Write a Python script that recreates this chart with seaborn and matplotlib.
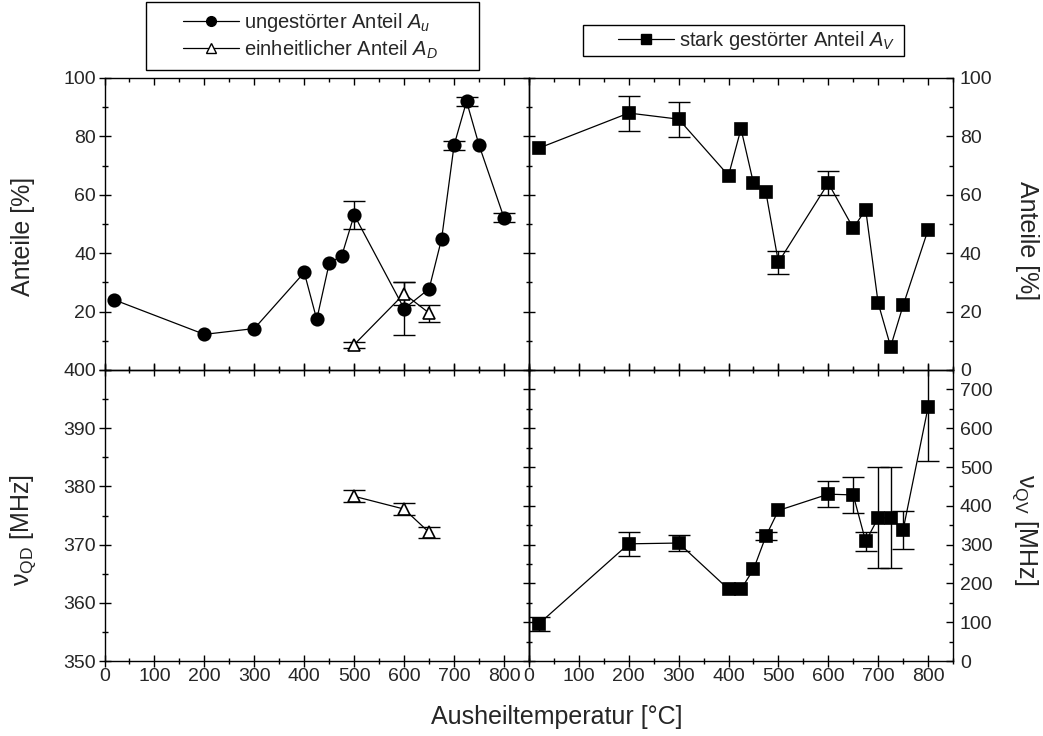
import numpy as np
import matplotlib
matplotlib.use("Agg")
import matplotlib.pyplot as plt
from matplotlib.ticker import MultipleLocator, FuncFormatter
from matplotlib.patches import Rectangle
from matplotlib.lines import Line2D
import seaborn as sns

# ---------------- data ----------------
temp_u = [20, 200, 300, 400, 425, 450, 475, 500, 600, 650, 675, 700, 725, 750, 800]
anteil_u = [24.0, 12.2, 14.2, 33.4, 17.3, 36.6, 39.1, 53.1, 21.0, 27.8, 44.9, 77.0, 92.0, 77.0, 52.1]
anteil_u_err = [0, 0, 0, 0, 0, 0, 0, 4.9, 9.0, 0, 0, 1.5, 1.5, 0, 1.5]

temp_d = [500, 600, 650]
anteil_d = [8.7, 26.1, 19.5]
anteil_d_err = [1.0, 4.0, 2.9]
nu_qd = [378.3, 376.1, 372.1]
nu_qd_err = [1.0, 1.0, 1.0]

temp_v = [20, 200, 300, 400, 425, 450, 475, 500, 600, 650, 675, 700, 725, 750, 800]
anteil_v = [76.0, 88.0, 85.9, 66.6, 82.6, 64.0, 60.8, 36.9, 64.0, 48.6, 54.9, 22.9, 8.0, 22.1, 48.0]
anteil_v_err = [0, 6, 6, 0, 0, 0, 0, 4, 4, 0, 0, 0, 0, 0, 0]
nu_qv = [96, 302, 304, 185, 185, 236, 322, 388, 430, 428, 308, 369, 369, 338, 654]
nu_qv_err = [18, 31, 21, 0, 0, 0, 10, 0, 34, 47, 24, 130, 130, 49, 138]

label_u = "ungestörter Anteil $A_u$"
label_d = "einheitlicher Anteil $A_D$"
label_v = "stark gestörter Anteil $A_V$"
xlabel = "Ausheiltemperatur [°C]"
ylabel_top = "Anteile [%]"
ylabel_qd = "ν$_{\\mathrm{QD}}$ [MHz]"
ylabel_qv = "ν$_{\\mathrm{QV}}$ [MHz]"

# ---------------- style ----------------
sns.set_theme(style="white")
plt.rcParams["font.family"] = ["Liberation Sans", "DejaVu Sans"]
plt.rcParams["mathtext.fontset"] = "custom"
plt.rcParams["mathtext.rm"] = "Liberation Sans"
plt.rcParams["mathtext.it"] = "Liberation Sans:italic"
plt.rcParams["mathtext.bf"] = "Liberation Sans:bold"
plt.rcParams["axes.edgecolor"] = "black"
plt.rcParams["axes.linewidth"] = 1.0

W, H = 1043, 736
fig = plt.figure(figsize=(W / 100, H / 100), dpi=100)
fig.patch.set_facecolor("white")

def box(x0, x1, ytop, ybot):
    return [x0 / W, 1 - ybot / H, (x1 - x0) / W, (ybot - ytop) / H]

ax1 = fig.add_axes(box(104.5, 529, 78, 370))
ax2 = fig.add_axes(box(529, 953, 78, 370))
ax3 = fig.add_axes(box(104.5, 529, 370, 661))
ax4 = fig.add_axes(box(529, 953, 370, 661))

TICK_FS = 14
LABEL_FS = 18
LEG_FS = 14.5
LW = 0.9
for ax in (ax1, ax2, ax3, ax4):
    ax.set_facecolor("none")
    ax.set_xlim(0, 850)
    ax.xaxis.set_major_locator(MultipleLocator(100))
    ax.xaxis.set_minor_locator(MultipleLocator(50))
    for s in ax.spines.values():
        s.set_color("black")
        s.set_linewidth(1.0)


def errbars(ax, x, y, e, cap=8):
    x = np.asarray(x, float); y = np.asarray(y, float); e = np.asarray(e, float)
    m = e > 0
    ax.errorbar(x[m], y[m], yerr=e[m], fmt="none", ecolor="black",
                elinewidth=1.0, capsize=cap, capthick=1.0, zorder=1)


def line(ax, x, y, marker, ms, mfc="black"):
    sns.lineplot(x=x, y=y, ax=ax, color="black", linewidth=LW, marker=marker,
                 markersize=ms, markerfacecolor=mfc, markeredgecolor="black",
                 markeredgewidth=1.2, legend=False, zorder=3)

# top left: A_u and A_D
errbars(ax1, temp_u, anteil_u, anteil_u_err)
line(ax1, temp_u, anteil_u, "o", 9)
errbars(ax1, temp_d, anteil_d, anteil_d_err)
line(ax1, temp_d, anteil_d, "^", 9, mfc="white")

# top right: A_V
errbars(ax2, temp_v, anteil_v, anteil_v_err)
line(ax2, temp_v, anteil_v, "s", 8.5)

# bottom left: nu_QD
errbars(ax3, temp_d, nu_qd, nu_qd_err)
line(ax3, temp_d, nu_qd, "^", 9, mfc="white")

# bottom right: nu_QV
errbars(ax4, temp_v, nu_qv, nu_qv_err)
line(ax4, temp_v, nu_qv, "s", 8.5)

for ax in (ax1, ax2, ax3, ax4):
    ax.set_xlabel("")
    ax.set_ylabel("")

# ----- y scales -----
for ax in (ax1, ax2):
    ax.set_ylim(0, 100)
    ax.yaxis.set_major_locator(MultipleLocator(20))
    ax.yaxis.set_minor_locator(MultipleLocator(10))
ax1.yaxis.set_major_formatter(FuncFormatter(lambda v, p: "" if abs(v) < 1e-9 else f"{v:g}"))
ax3.set_ylim(350, 400)
ax3.yaxis.set_major_locator(MultipleLocator(10))
ax3.yaxis.set_minor_locator(MultipleLocator(5))
ax4.set_ylim(0, 750)
ax4.yaxis.set_major_locator(MultipleLocator(100))
ax4.yaxis.set_minor_locator(MultipleLocator(50))

MAJ_IO, MIN_IO = 8, 5
MAJ_IN, MIN_IN = 5, 3

# top panels: x ticks inward, no labels
for ax in (ax1, ax2):
    ax.tick_params(axis="x", which="both", direction="in", top=True, bottom=True,
                   labelbottom=False, color="black", width=1.0)
    ax.tick_params(axis="x", which="major", length=MAJ_IN)
    ax.tick_params(axis="x", which="minor", length=MIN_IN)
# bottom panels: x ticks crossing, labels at bottom
for ax in (ax3, ax4):
    ax.tick_params(axis="x", which="both", direction="inout", top=True, bottom=True,
                   labelbottom=True, labelsize=TICK_FS, pad=1, color="black", width=1.0)
    ax.tick_params(axis="x", which="major", length=MAJ_IO)
    ax.tick_params(axis="x", which="minor", length=MIN_IO)

# left panels: y ticks crossing on the left
ax1.tick_params(axis="y", which="both", direction="inout", left=True, right=True,
                labelleft=True, labelright=False, labelsize=TICK_FS, pad=2,
                color="black", width=1.0)
ax3.tick_params(axis="y", which="both", direction="inout", left=True, right=False,
                labelleft=True, labelright=False, labelsize=TICK_FS, pad=2,
                color="black", width=1.0)
for ax in (ax1, ax3):
    ax.tick_params(axis="y", which="major", length=MAJ_IO)
    ax.tick_params(axis="y", which="minor", length=MIN_IO)

# right panels: y labels on the right, ticks inward
for ax in (ax2, ax4):
    ax.tick_params(axis="y", which="both", direction="in", left=False, right=True,
                   labelleft=False, labelright=True, labelsize=TICK_FS, pad=5,
                   color="black", width=1.0)
    ax.tick_params(axis="y", which="major", length=MAJ_IN)
    ax.tick_params(axis="y", which="minor", length=MIN_IN)

# shared border of bottom panels carries the nu_QV scale ticks
sec = ax4.secondary_yaxis("left")
sec.yaxis.set_major_locator(MultipleLocator(100))
sec.yaxis.set_minor_locator(MultipleLocator(50))
sec.tick_params(axis="y", which="both", direction="inout", labelleft=False,
                color="black", width=1.0)
sec.tick_params(axis="y", which="major", length=MAJ_IO)
sec.tick_params(axis="y", which="minor", length=MIN_IO)
sec.spines["left"].set_linewidth(1.0)

# ----- axis labels -----
fig.text(23 / W, 1 - 236 / H, ylabel_top, rotation=90, ha="center", va="center", fontsize=LABEL_FS)
fig.text(1027 / W, 1 - 241 / H, ylabel_top, rotation=270, ha="center", va="center", fontsize=LABEL_FS)
fig.text(23 / W, 1 - 530 / H, ylabel_qd, rotation=90, ha="center", va="center", fontsize=LABEL_FS)
fig.text(1025 / W, 1 - 530 / H, ylabel_qv, rotation=270, ha="center", va="center", fontsize=LABEL_FS)
fig.text(557 / W, 1 - 717 / H, xlabel, ha="center", va="center", fontsize=LABEL_FS)

# ----- legends -----
def handle(marker, mfc):
    return Line2D([], [], color="black", linewidth=LW, marker=marker, markersize=7,
                  markerfacecolor=mfc, markeredgecolor="black", markeredgewidth=1.0)

leg1 = fig.legend([handle("o", "black"), handle("^", "white")], [label_u, label_d],
                  loc="center left", bbox_to_anchor=(183 / W, 1 - 36 / H),
                  frameon=False, fontsize=LEG_FS, handlelength=2.8, handletextpad=0.25,
                  borderpad=0, labelspacing=0.2, borderaxespad=0)
leg2 = fig.legend([handle("s", "black")], [label_v],
                  loc="center left", bbox_to_anchor=(618 / W, 1 - 40.5 / H),
                  frameon=False, fontsize=LEG_FS, handlelength=2.8, handletextpad=0.25,
                  borderpad=0, borderaxespad=0)

fig.canvas.draw()
for leg, padl, padr, padv in ((leg1, 37, 40, 9), (leg2, 35, 8, 4)):
    bb = leg.get_window_extent()
    x0 = bb.x0 - padl; x1 = bb.x1 + padr
    y0 = bb.y0 - padv; y1 = bb.y1 + padv
    fig.add_artist(Rectangle((x0 / W, y0 / H), (x1 - x0) / W, (y1 - y0) / H,
                             transform=fig.transFigure, fill=False,
                             edgecolor="black", linewidth=1.0))

fig.savefig("out.png", dpi=100, facecolor="white")
